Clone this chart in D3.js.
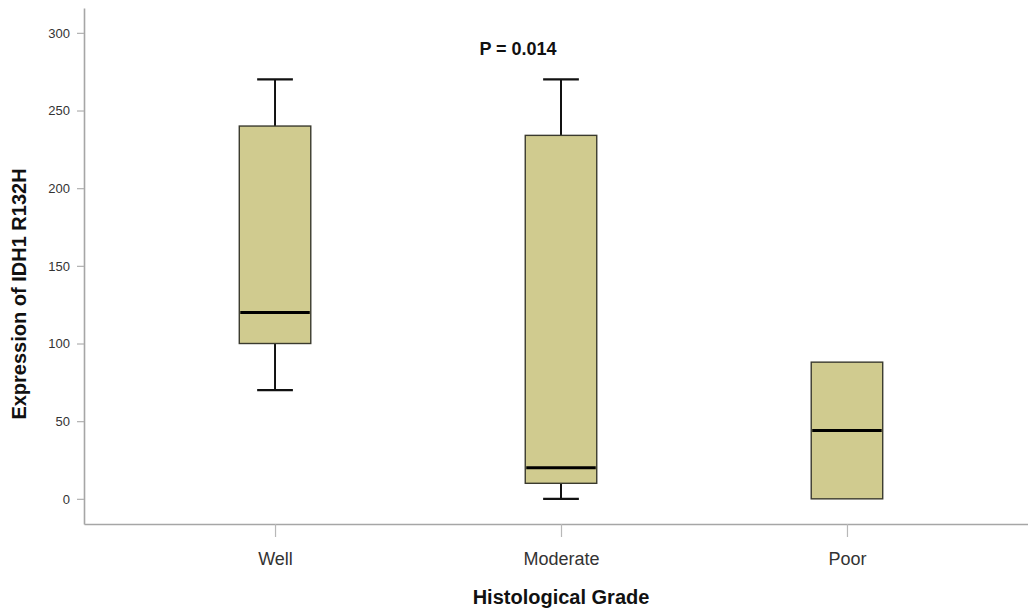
<!DOCTYPE html>
<html>
<head>
<meta charset="utf-8">
<script src="https://cdn.jsdelivr.net/npm/d3@7/dist/d3.min.js"></script>
<style>
  body { margin: 0; background: #fff; }
  svg { display: block; font-family: Arial, "Liberation Sans", sans-serif; }
</style>
</head>
<body>
<svg id="chart" width="1028" height="612"></svg>
<script>
// box plot data
var grades = ["Well", "Moderate", "Poor"];
var whiskerLow = [70, 0, 0];
var q1 = [100, 10, 0];
var median = [120, 20, 44];
var q3 = [240, 234, 88];
var whiskerHigh = [270, 270, 88];
var yTicks = [0, 50, 100, 150, 200, 250, 300];

var svg = d3.select("#chart");

var x = d3.scalePoint()
    .domain(grades)
    .range([84, 1038])
    .padding(0.668);

var y = d3.scaleLinear()
    .domain([-16.2, 316])
    .range([524, 8]);

var step = x.step();
var boxW = step * 0.25;
var capW = step * 0.125;

var data = grades.map(function(g, i) {
  return { grade: g, lo: whiskerLow[i], q1: q1[i], med: median[i], q3: q3[i], hi: whiskerHigh[i] };
});

// axes
var yAxis = svg.append("g")
    .attr("transform", "translate(84,0)")
    .call(d3.axisLeft(y).tickValues(yTicks).tickSize(7).tickSizeOuter(0).tickPadding(7));
yAxis.select(".domain").attr("stroke", "#a6a6a6").attr("stroke-width", 1.6);
yAxis.selectAll(".tick line").attr("stroke", "#b0b0b0").attr("stroke-width", 1.2);
yAxis.selectAll(".tick text")
    .attr("fill", "#333")
    .style("font-size", "13px");

var xAxis = svg.append("g")
    .attr("transform", "translate(0,524)")
    .call(d3.axisBottom(x).tickSize(13).tickSizeOuter(0).tickPadding(15));
xAxis.select(".domain").attr("stroke", "#a6a6a6").attr("stroke-width", 1.6);
xAxis.selectAll(".tick line").attr("stroke", "#b8b8b8").attr("stroke-width", 1.2);
xAxis.selectAll(".tick text")
    .attr("fill", "#333")
    .style("font-size", "18px");

// boxes
var boxes = svg.append("g").selectAll("g.box")
    .data(data)
    .enter().append("g")
    .attr("class", "box");

// whisker stems
boxes.filter(function(d) { return d.hi > d.q3; }).append("line")
    .attr("x1", function(d) { return x(d.grade); })
    .attr("x2", function(d) { return x(d.grade); })
    .attr("y1", function(d) { return y(d.q3); })
    .attr("y2", function(d) { return y(d.hi); })
    .attr("stroke", "#111").attr("stroke-width", 2);
boxes.filter(function(d) { return d.lo < d.q1; }).append("line")
    .attr("x1", function(d) { return x(d.grade); })
    .attr("x2", function(d) { return x(d.grade); })
    .attr("y1", function(d) { return y(d.q1); })
    .attr("y2", function(d) { return y(d.lo); })
    .attr("stroke", "#111").attr("stroke-width", 2);

// caps
boxes.filter(function(d) { return d.hi > d.q3; }).append("line")
    .attr("x1", function(d) { return x(d.grade) - capW / 2; })
    .attr("x2", function(d) { return x(d.grade) + capW / 2; })
    .attr("y1", function(d) { return y(d.hi); })
    .attr("y2", function(d) { return y(d.hi); })
    .attr("stroke", "#111").attr("stroke-width", 2.2);
boxes.filter(function(d) { return d.lo < d.q1; }).append("line")
    .attr("x1", function(d) { return x(d.grade) - capW / 2; })
    .attr("x2", function(d) { return x(d.grade) + capW / 2; })
    .attr("y1", function(d) { return y(d.lo); })
    .attr("y2", function(d) { return y(d.lo); })
    .attr("stroke", "#111").attr("stroke-width", 2.2);

boxes.append("rect")
    .attr("x", function(d) { return x(d.grade) - boxW / 2; })
    .attr("width", boxW)
    .attr("y", function(d) { return y(d.q3); })
    .attr("height", function(d) { return y(d.q1) - y(d.q3); })
    .attr("fill", "#d0cb8f")
    .attr("stroke", "#3a3a2e")
    .attr("stroke-width", 1.4);

// medians
boxes.append("line")
    .attr("x1", function(d) { return x(d.grade) - boxW / 2 + 1; })
    .attr("x2", function(d) { return x(d.grade) + boxW / 2 - 1; })
    .attr("y1", function(d) { return y(d.med); })
    .attr("y2", function(d) { return y(d.med); })
    .attr("stroke", "#000").attr("stroke-width", 3);

// annotation
svg.append("text")
    .attr("x", 518)
    .attr("y", 55)
    .attr("text-anchor", "middle")
    .style("font-size", "18px")
    .style("font-weight", "bold")
    .attr("fill", "#111")
    .text("P = 0.014");

// axis titles
svg.append("text")
    .attr("x", 561)
    .attr("y", 604)
    .attr("text-anchor", "middle")
    .style("font-size", "20px")
    .style("font-weight", "bold")
    .attr("fill", "#111")
    .text("Histological Grade");

svg.append("text")
    .attr("transform", "translate(26,294) rotate(-90)")
    .attr("text-anchor", "middle")
    .style("font-size", "20px")
    .style("font-weight", "bold")
    .attr("fill", "#111")
    .text("Expression of IDH1 R132H");
</script>
</body>
</html>
